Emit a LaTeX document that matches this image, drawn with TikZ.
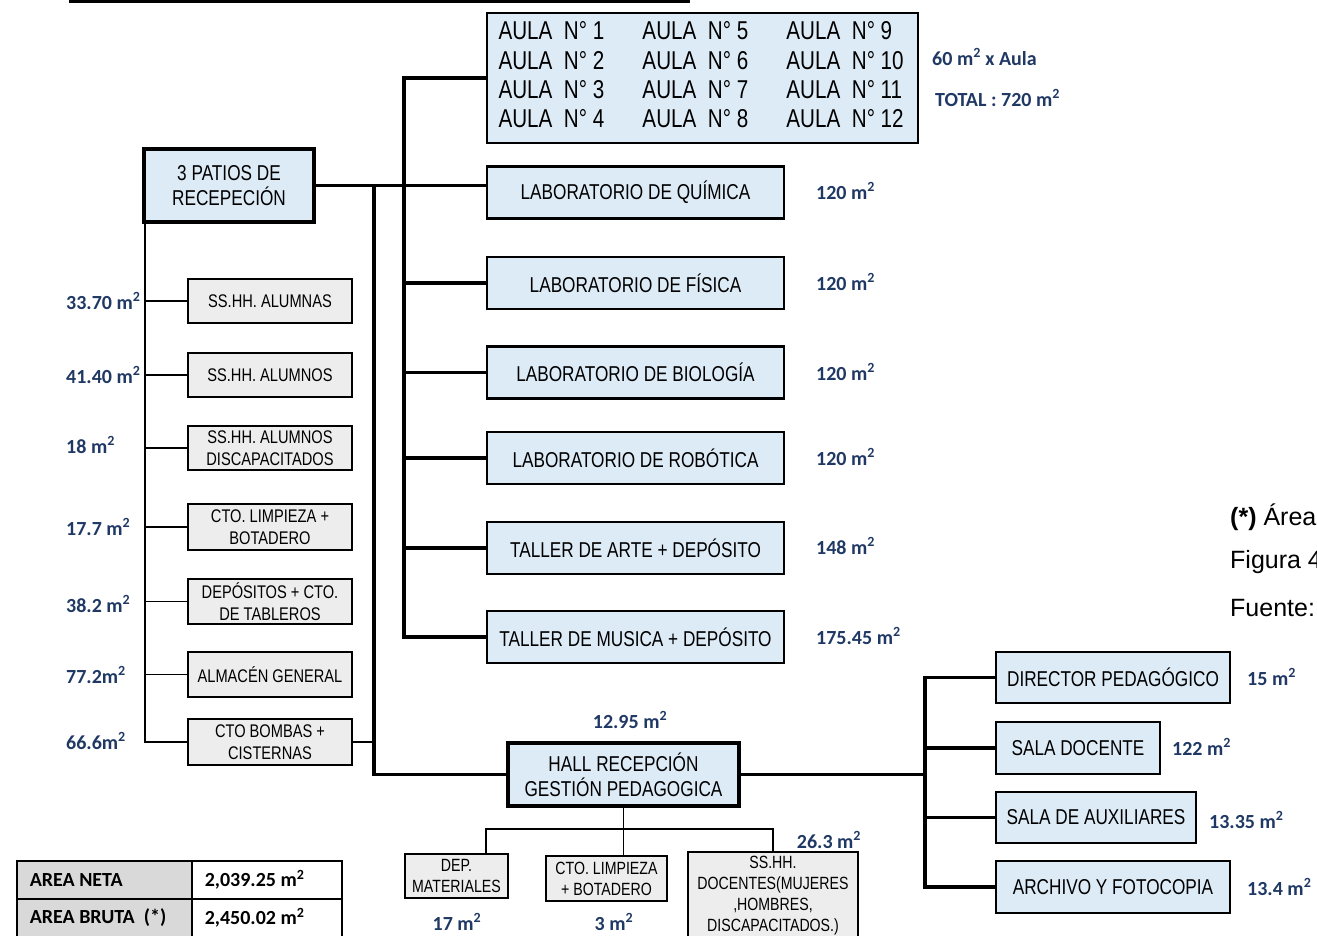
\documentclass[tikz,border=0pt]{standalone}
\usepackage{fontspec}
\setmainfont{Liberation Sans}
\newfontfamily\narrowfont[FakeStretch=0.8]{Liberation Sans}
\newfontfamily\calib{Carlito}
\definecolor{boxblue}{RGB}{221,235,247}
\definecolor{boxgray}{RGB}{237,237,237}
\definecolor{tgray}{RGB}{217,217,217}
\definecolor{navy}{RGB}{31,56,100}
\newcommand\msq{m\textsuperscript{2}}
\begin{document}
\begin{tikzpicture}[x=1pt,y=-1pt,
  bluebox/.style={draw, line width=2.5, fill=boxblue, inner sep=0, align=center,
    font=\narrowfont\fontsize{21.5}{25}\selectfont},
  thickbox/.style={bluebox, line width=4},
  labbox/.style={bluebox, minimum width=297, minimum height=52},
  graybox/.style={draw, line width=1.5, fill=boxgray, inner sep=0, align=center,
    font=\narrowfont\fontsize{18.3}{21.5}\selectfont},
  smallbox/.style={graybox, minimum width=164, minimum height=45},
  botbox/.style={graybox, font=\narrowfont\fontsize{17.7}{21}\selectfont},
  lbl/.style={font=\calib\bfseries\fontsize{20}{24}\selectfont, text=navy, inner sep=0},
  trunk/.style={line width=3.5},
  thinline/.style={line width=1.5},
  cell/.style={draw, line width=1.5, minimum height=38, inner xsep=13, align=flush left,
    font=\calib\bfseries\fontsize{20}{24}\selectfont, anchor=north west},
  note/.style={font=\fontsize{25}{30}\selectfont, inner sep=0, anchor=west}]
\useasboundingbox (0,0) rectangle (1317,935);
\clip (0,0) rectangle (1317,935);

% top rule
\draw[line width=6] (69,0) -- (690,0);

% main boxes
\node[thickbox, minimum width=170, minimum height=73] (patios) at (229,185.5) {3 PATIOS DE\\RECEPECIÓN};
\node[bluebox, minimum width=431, minimum height=130, font=\narrowfont\fontsize{25.8}{29.3}\selectfont] (aula) at (702.5,78)
 {\begin{tabular}{@{}p{144pt}@{}p{144pt}@{}p{120pt}@{}}
  AULA~~N° 1 & AULA~~N° 5 & AULA~~N° 9\\
  AULA~~N° 2 & AULA~~N° 6 & AULA~~N° 10\\
  AULA~~N° 3 & AULA~~N° 7 & AULA~~N° 11\\
  AULA~~N° 4 & AULA~~N° 8 & AULA~~N° 12
  \end{tabular}};
\node[labbox] (quim) at (635.5,192.5) {LABORATORIO DE QUÍMICA};
\node[labbox] (fis) at (635.5,283) {LABORATORIO DE FÍSICA};
\node[labbox] (bio) at (635.5,372.5) {LABORATORIO DE BIOLOGÍA};
\node[labbox] (robo) at (635.5,458) {LABORATORIO DE ROBÓTICA};
\node[labbox] (arte) at (635.5,548) {TALLER DE ARTE + DEPÓSITO};
\node[labbox] (musica) at (635.5,637) {TALLER DE MUSICA + DEPÓSITO};
\node[thickbox, minimum width=231, minimum height=63] (hall) at (623.5,774.5) {HALL RECEPCIÓN\\GESTIÓN PEDAGOGICA};

% right boxes
\node[bluebox, minimum width=234, minimum height=51] (dir) at (1113,677.5) {DIRECTOR PEDAGÓGICO};
\node[bluebox, minimum width=164, minimum height=52] (sdoc) at (1078,748) {SALA DOCENTE};
\node[bluebox, minimum width=200, minimum height=51] (saux) at (1096,817.5) {SALA DE AUXILIARES};
\node[bluebox, minimum width=234, minimum height=52] (arch) at (1113,887) {ARCHIVO Y FOTOCOPIA};

% left boxes
\node[smallbox, minimum height=44] (ssa) at (270,301) {SS.HH. ALUMNAS};
\node[smallbox, minimum height=44] (sso) at (270,375) {SS.HH. ALUMNOS};
\node[smallbox, minimum height=44] (ssd) at (270,448) {SS.HH. ALUMNOS\\DISCAPACITADOS};
\node[smallbox, minimum height=46] (cto) at (270,527) {CTO. LIMPIEZA +\\BOTADERO};
\node[smallbox] (depo) at (270,601.5) {DEPÓSITOS + CTO.\\DE TABLEROS};
\node[smallbox] (alm) at (270,674.5) {ALMACÉN GENERAL};
\node[smallbox, minimum height=46] (bomb) at (270,742) {CTO BOMBAS +\\CISTERNAS};

% hall children
\node[botbox, minimum width=103, minimum height=44] (depm) at (456.5,876) {DEP.\\MATERIALES};
\node[botbox, minimum width=121, minimum height=45] (ctol) at (606.5,878.5) {CTO. LIMPIEZA\\+ BOTADERO};
\node[botbox, minimum width=170, minimum height=88] (ssdoc) at (773,896) {SS.HH.\\DOCENTES(MUJERES\\,HOMBRES,\\DISCAPACITADOS.)};

% bus coordinates
\coordinate (busA) at (404,0);
\coordinate (busB) at (374,0);
\coordinate (busL) at (145,0);
\coordinate (busR) at (925,0);
\coordinate (hb) at (0,829);

% connectors
\draw[trunk] (aula.west) -- (aula.west -| busA) -- (busA |- musica.west) -- (musica.west);
\draw[trunk] (patios.east) -- (patios.east -| quim.west);
\draw[trunk] (busA |- fis.west) -- (fis.west);
\draw[trunk] (busA |- bio.west) -- (bio.west);
\draw[trunk] (busA |- robo.west) -- (robo.west);
\draw[trunk] (busA |- arte.west) -- (arte.west);
\draw[trunk] (patios.east -| busB) -- (busB |- hall.west) -- (hall.west);
\draw[trunk] (hall.east) -- (hall.east -| busR);
\draw[trunk] (dir.west) -- (dir.west -| busR) -- (busR |- arch.west) -- (arch.west);
\draw[trunk] (busR |- sdoc.west) -- (sdoc.west);
\draw[trunk] (busR |- saux.west) -- (saux.west);

\draw[thinline] (patios.south -| busL) -- (busL |- bomb.west) -- (bomb.west);
\draw[thinline] (busL |- ssa.west) -- (ssa.west);
\draw[thinline] (busL |- sso.west) -- (sso.west);
\draw[thinline] (busL |- ssd.west) -- (ssd.west);
\draw[thinline] (busL |- cto.west) -- (cto.west);
\draw[thinline] (busL |- depo.west) -- (depo.west);
\draw[thinline] (busL |- alm.west) -- (alm.west);
\draw[thinline] (bomb.east) -- (bomb.east -| busB);

\draw[thinline] ([xshift=29.5pt]depm.north) -- ([xshift=29.5pt]depm.north |- hb) -- (ssdoc.north |- hb) -- (ssdoc.north);
\draw[thinline] (hall.south) -- (hall.south |- ctol.north);

% area labels
\node[lbl, anchor=west] (l60) at (932,57) {60 \msq\ x Aula};
\node[lbl, anchor=west] (ltot) at (935,98) {TOTAL : 720 \msq};
\node[lbl, anchor=west] (lq) at (816,191) {120 \msq};
\node[lbl, anchor=west] (lf) at (816,282) {120 \msq};
\node[lbl, anchor=west] (lb) at (816,372) {120 \msq};
\node[lbl, anchor=west] (lr) at (816,457) {120 \msq};
\node[lbl, anchor=west] (la) at (816,546) {148 \msq};
\node[lbl, anchor=west] (lm) at (816,636) {175.45 \msq};
\node[lbl] (lh) at (630,720) {12.95 \msq};
\node[lbl, anchor=west] (ld) at (1247,677) {15 \msq};
\node[lbl, anchor=west] (lsd) at (1172,747) {122 \msq};
\node[lbl, anchor=west] (lsa) at (1209,820) {13.35 \msq};
\node[lbl, anchor=west] (lar) at (1247,887) {13.4 \msq};

\node[lbl, anchor=west] (l1) at (66,301) {33.70 \msq};
\node[lbl, anchor=west] (l2) at (66,375) {41.40 \msq};
\node[lbl, anchor=west] (l3) at (66,445) {18 \msq};
\node[lbl, anchor=west] (l4) at (66,527) {17.7 \msq};
\node[lbl, anchor=west] (l5) at (66,604) {38.2 \msq};
\node[lbl, anchor=west] (l6) at (66,675) {77.2\msq};
\node[lbl, anchor=west] (l7) at (66,741) {66.6\msq};

\node[lbl] (ldm) at (457,922) {17 \msq};
\node[lbl] (lcl) at (614,922) {3 \msq};
\node[lbl] (lss) at (829,840) {26.3 \msq};

% table
\node[cell, fill=tgray, text width=149] (t11) at (16,860) {AREA NETA};
\node[cell, fill=white, text width=124] (t12) at (191,860) {2,039.25 \msq};
\node[cell, fill=tgray, text width=149] (t21) at (16,898) {AREA BRUTA~~(*)};
\node[cell, fill=white, text width=124] (t22) at (191,898) {2,450.02 \msq};

% notes
\node[note] (nota) at (1230,517) {\textbf{(*)} Área};
\node[note] (fig) at (1230,562) {Figura 4};
\node[note] (fte) at (1230,608) {Fuente:};
\end{tikzpicture}
\end{document}
